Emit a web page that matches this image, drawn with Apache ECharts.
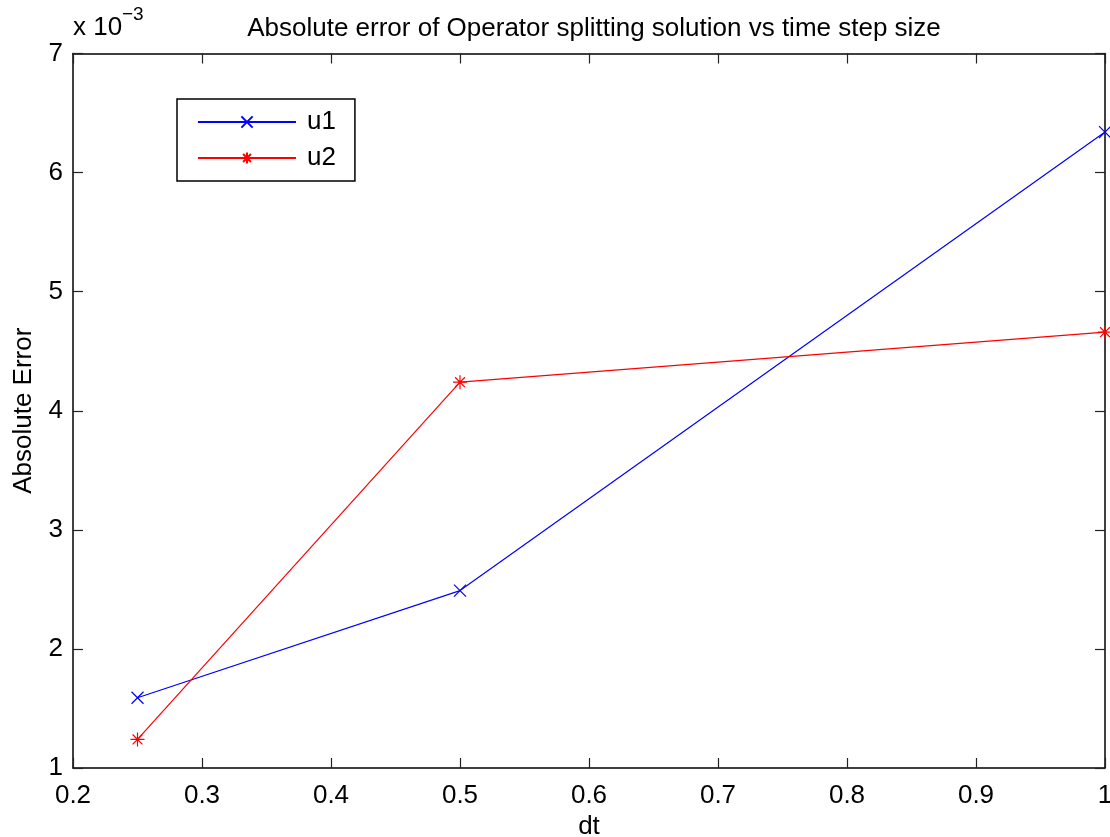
<!DOCTYPE html>
<html>
<head>
<meta charset="utf-8">
<script src="https://cdn.jsdelivr.net/npm/echarts@6/dist/echarts.min.js"></script>
<style>
html,body{margin:0;padding:0;background:#fff;}
#chart{width:1110px;height:837px;}
</style>
</head>
<body>
<div id="chart"></div>
<script>
// Data (absolute error in units of 1e-3)
const dt = [0.25, 0.5, 1.0];
const u1 = [1.59, 2.49, 6.34];
const u2 = [1.24, 4.24, 4.66];
const seriesNames = ['u1', 'u2'];
const titleText = 'Absolute error of Operator splitting solution vs time step size';
const xName = 'dt';
const yName = 'Absolute Error';

const FONT = '"Liberation Sans", Arial, Helvetica, sans-serif';
const FS = 26;

const xMark = 'path://M0,0 L10,10 M10,0 L0,10';
const starMark = 'path://M5,0 L5,10 M0,5 L10,5 M1.5,1.5 L8.5,8.5 M8.5,1.5 L1.5,8.5';

const chart = echarts.init(document.getElementById('chart'), null, {renderer: 'canvas'});

const axisCommon = {
  axisLine: {show: true, onZero: false, lineStyle: {color: '#000', width: 1.5}},
  axisTick: {show: true, inside: true, length: 10, lineStyle: {color: '#222', width: 1.2}},
  splitLine: {show: false}
};

function fmtX(v) {
  if (Math.abs(v - 1) < 1e-9) return '1';
  return (Math.round(v * 10) / 10).toFixed(1);
}

chart.setOption({
  backgroundColor: '#fff',
  animation: false,
  textStyle: {fontFamily: FONT},
  title: {
    text: titleText,
    left: 589, textAlign: 'center', top: 11,
    textStyle: {fontFamily: FONT, fontSize: 26, fontWeight: 'normal', color: '#000'}
  },
  grid: {left: 73, right: 5, top: 53.5, bottom: 69, containLabel: false, outerBoundsMode: 'none'},
  legend: {
    data: seriesNames,
    orient: 'vertical',
    left: 177, top: 99,
    padding: [10, 19, 10, 20],
    itemWidth: 98, itemHeight: 14, itemGap: 10,
    borderColor: '#000', borderWidth: 1.5, backgroundColor: '#fff',
    textStyle: {fontFamily: FONT, fontSize: FS, color: '#000', padding: [0, 0, 0, 6]}
  },
  xAxis: [
    Object.assign({}, axisCommon, {
      type: 'value', min: 0.2, max: 1, interval: 0.1, position: 'bottom',
      name: xName, nameLocation: 'middle', nameGap: 46,
      nameTextStyle: {fontFamily: FONT, fontSize: FS, color: '#000'},
      axisLabel: {show: true, margin: 15, color: '#000', fontFamily: FONT, fontSize: FS, formatter: fmtX}
    }),
    Object.assign({}, axisCommon, {
      type: 'value', min: 0.2, max: 1, interval: 0.1, position: 'top',
      axisLabel: {show: false}
    })
  ],
  yAxis: [
    Object.assign({}, axisCommon, {
      type: 'value', min: 1, max: 7, interval: 1, position: 'left',
      name: yName, nameLocation: 'middle', nameGap: 36, nameRotate: 90,
      nameTextStyle: {fontFamily: FONT, fontSize: FS, color: '#000'},
      axisLabel: {show: true, margin: 10, color: '#000', fontFamily: FONT, fontSize: FS}
    }),
    Object.assign({}, axisCommon, {
      type: 'value', min: 1, max: 7, interval: 1, position: 'right',
      axisLabel: {show: false}
    })
  ],
  graphic: [
    {type: 'text', left: 73, top: 15, style: {text: 'x 10', font: FS + 'px ' + FONT, fill: '#000'}},
    {type: 'text', left: 122, top: 5, style: {text: '\u22123', font: '19px ' + FONT, fill: '#000'}}
  ],
  series: [
    {
      name: seriesNames[0], type: 'line',
      data: dt.map((x, i) => [x, u1[i]]),
      symbol: xMark, symbolSize: 12, showAllSymbol: true,
      lineStyle: {color: '#0000ff', width: 1.2},
      itemStyle: {color: '#0000ff', borderColor: '#0000ff', borderWidth: 1.2},
      emphasis: {disabled: true}, clip: false
    },
    {
      name: seriesNames[1], type: 'line',
      data: dt.map((x, i) => [x, u2[i]]),
      symbol: starMark, symbolSize: 14, showAllSymbol: true,
      lineStyle: {color: '#ff0000', width: 1.2},
      itemStyle: {color: '#ff0000', borderColor: '#ff0000', borderWidth: 1.2},
      emphasis: {disabled: true}, clip: false
    }
  ]
});
</script>
</body>
</html>
